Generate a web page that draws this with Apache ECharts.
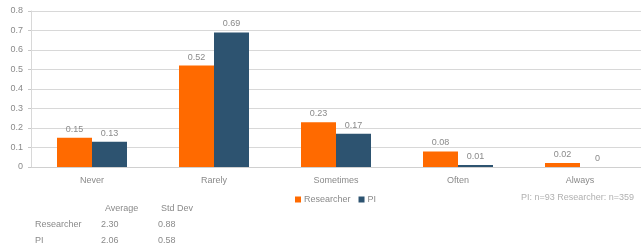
<!DOCTYPE html>
<html>
<head>
<meta charset="utf-8">
<script src="https://cdn.jsdelivr.net/npm/echarts@6/dist/echarts.min.js"></script>
<style>
  html, body { margin: 0; padding: 0; background: #fff; }
  #chart { width: 641px; height: 250px; }
</style>
</head>
<body>
<div id="chart"></div>
<script>
const categories = ["Never", "Rarely", "Sometimes", "Often", "Always"];
const researcher = [0.15, 0.52, 0.23, 0.08, 0.02];
const pi = [0.13, 0.69, 0.17, 0.01, 0];
const yTicks = [0, 0.1, 0.2, 0.3, 0.4, 0.5, 0.6, 0.7, 0.8];

// summary table under the chart
const tableHead = ["Average", "Std Dev"];
const tableRows = [
  ["Researcher", "2.30", "0.88"],
  ["PI", "2.06", "0.58"]
];
const note = "PI: n=93 Researcher: n=359";

const grey = "#8a8a8a";
const font = "Liberation Sans";

var dom = document.getElementById("chart");
var myChart = echarts.init(dom);

// table texts
var tableGfx = [];
tableHead.forEach(function (h, i) {
  tableGfx.push({
    type: "text", left: 105 + i * 56, top: 204,
    style: { text: h, fill: grey, font: "9px " + font }
  });
});
tableRows.forEach(function (row, r) {
  row.forEach(function (cell, c) {
    var x = c === 0 ? 35 : 101 + (c - 1) * 57;
    tableGfx.push({
      type: "text", left: x, top: 220 + r * 16,
      style: { text: cell, fill: grey, font: "9px " + font }
    });
  });
});
tableGfx.push({
  type: "text", left: 521, top: 193,
  style: { text: note, fill: "#b0b0b0", font: "9px " + font }
});

var option = {
  animation: false,
  textStyle: { fontFamily: font },
  grid: { left: 31, top: 11, width: 615, height: 156 },
  legend: {
    data: ["Researcher", "PI"],
    left: 290, top: 190,
    itemWidth: 6, itemHeight: 6, itemGap: 8,
    icon: "rect",
    textStyle: { color: grey, fontSize: 9, padding: [0, 0, 0, -2] }
  },
  xAxis: {
    type: "category",
    data: categories,
    axisLine: { lineStyle: { color: "#d0d0d0" } },
    axisTick: { length: 3, lineStyle: { color: "#c0c0c0" } },
    axisLabel: { color: grey, fontSize: 9, margin: 9 }
  },
  yAxis: {
    type: "value",
    min: 0, max: yTicks[yTicks.length - 1], interval: 0.1,
    axisLine: { show: true, lineStyle: { color: "#d8d8d8" } },
    axisTick: { show: true, length: 3, lineStyle: { color: "#c8c8c8" } },
    axisLabel: {
      color: grey, fontSize: 9, margin: 8,
      formatter: function (v) { return String(Math.round(v * 10) / 10); }
    },
    splitLine: { lineStyle: { color: "#d8d8d8" } }
  },
  graphic: tableGfx,
  series: [
    {
      name: "Researcher", type: "bar", data: researcher,
      barWidth: 35, barGap: "0%",
      itemStyle: { color: "#ff6a00" },
      label: { show: true, position: "top", color: grey, fontSize: 9, distance: 4 }
    },
    {
      name: "PI", type: "bar", data: pi,
      barWidth: 35,
      itemStyle: { color: "#2d5370" },
      label: { show: true, position: "top", color: grey, fontSize: 9, distance: 4 }
    }
  ]
};

myChart.setOption(option);
</script>
</body>
</html>
